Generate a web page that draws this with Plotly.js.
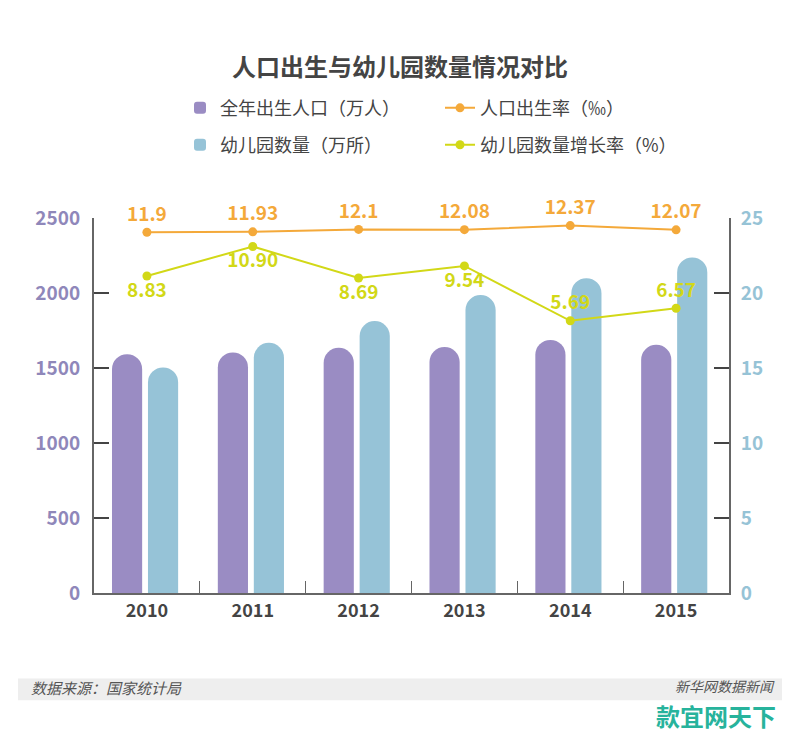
<!DOCTYPE html>
<html><head><meta charset="utf-8">
<script src="https://cdn.plot.ly/plotly-3.0.1.min.js"></script>
<style>html,body{margin:0;padding:0;background:#fff;}#chart{width:800px;height:732px;}</style>
</head><body><div id="chart"></div>
<script>
const years = ['2010','2011','2012','2013','2014','2015'];
const births = [1592, 1604, 1635, 1640, 1687, 1655];          // 全年出生人口（万人）
const kindergartens = [15.04, 16.68, 18.13, 19.86, 20.99, 22.37]; // 幼儿园数量（万所）
const birthRate = [11.9, 11.93, 12.1, 12.08, 12.37, 12.07];   // 人口出生率（‰）
const growthRate = [8.83, 10.90, 8.69, 9.54, 5.69, 6.57];     // 幼儿园数量增长率（%）
const birthRateText = ['11.9', '11.93', '12.1', '12.08', '12.37', '12.07'];
const growthRateText = ['8.83', '10.90', '8.69', '9.54', '5.69', '6.57'];
const leftTicks = [0, 500, 1000, 1500, 2000, 2500];
const rightTicks = [0, 5, 10, 15, 20, 25];

const FONT = '"Noto Sans CJK SC", "Noto Sans", sans-serif';
const PURPLE = '#9a8cc3', TEAL = '#96c3d7', ORANGE = '#f4a93a', LIME = '#d2d817';

const traces = [
  {type:'bar', name:'全年出生人口（万人）', x:years, y:births, yaxis:'y',
   width:0.285, offset:-0.33, marker:{color:PURPLE, cornerradius:15},
   legend:'legend', hoverinfo:'skip'},
  {type:'scatter', mode:'lines+markers+text', name:'人口出生率（‰）', x:years, y:birthRate, yaxis:'y3',
   line:{color:ORANGE, width:2}, marker:{color:ORANGE, size:9},
   text:birthRateText, textposition:'top center', cliponaxis:false,
   textfont:{color:ORANGE, size:19, family:FONT, weight:'bold'}, legend:'legend'},
  {type:'bar', name:'幼儿园数量（万所）', x:years, y:kindergartens, yaxis:'y2',
   width:0.285, offset:0.01, marker:{color:TEAL, cornerradius:15},
   legend:'legend2', hoverinfo:'skip'},
  {type:'scatter', mode:'lines+markers+text', name:'幼儿园数量增长率（%）', x:years, y:growthRate, yaxis:'y3',
   line:{color:LIME, width:2}, marker:{color:LIME, size:9},
   text:growthRateText,
   textposition:['bottom center','bottom center','bottom center','bottom center','top center','top center'],
   cliponaxis:false,
   textfont:{color:LIME, size:19, family:FONT, weight:'bold'}, legend:'legend2'}
];

const legendCommon = {orientation:'h', x:(180-94)/635, xanchor:'left', yanchor:'middle',
  entrywidth:215, entrywidthmode:'pixels', font:{size:18, family:FONT, color:'#444'},
  bgcolor:'rgba(0,0,0,0)', traceorder:'normal'};

const layout = {
  width:800, height:732,
  margin:{l:94, r:71, t:218, b:138.5, pad:0},
  paper_bgcolor:'#fff', plot_bgcolor:'#fff',
  font:{family:FONT, color:'#444'},
  showlegend:true,
  barmode:'overlay',
  title:{text:'人口出生与幼儿园数量情况对比', x:0.5, xref:'container', xanchor:'center',
         y:1-68/732, yref:'container', yanchor:'middle',
         font:{size:24, family:FONT, weight:'bold', color:'#444'}},
  xaxis:{type:'category', showgrid:false, zeroline:false, showline:true, linecolor:'#666', linewidth:2,
         ticks:'inside', tickson:'boundaries', ticklen:12, tickwidth:1, tickcolor:'#666',
         tickfont:{size:18, family:FONT, weight:'bold', color:'#444'}, fixedrange:true},
  yaxis:{range:[0,2500], tickvals:leftTicks, showgrid:false, zeroline:false, showline:true,
         linecolor:'#666', linewidth:2, ticks:'inside', ticklen:15, tickwidth:2, tickcolor:'#444',
         tickfont:{size:19, family:FONT, weight:'bold', color:'#8f87ba'}, ticklabelstandoff:8},
  yaxis2:{range:[0,25], tickvals:rightTicks, overlaying:'y', side:'right', showgrid:false, zeroline:false,
          showline:true, linecolor:'#666', linewidth:2, ticks:'inside', ticklen:15, tickwidth:2, tickcolor:'#444',
          tickfont:{size:19, family:FONT, weight:'bold', color:'#96c3d6'}, ticklabelstandoff:6},
  yaxis3:{range:[-13.4, 12.9], overlaying:'y', visible:false, showgrid:false, zeroline:false},
  legend:Object.assign({}, legendCommon, {y:(593.5-108)/375.5}),
  legend2:Object.assign({}, legendCommon, {y:(593.5-145)/375.5}),
  shapes:[{type:'rect', xref:'paper', yref:'paper', x0:(18-94)/635, x1:(782-94)/635,
           y0:(593.5-679)/375.5, y1:(593.5-701)/375.5, fillcolor:'#eeeeee', line:{width:0}, layer:'below'}],
  annotations:[
    {text:'数据来源：国家统计局', xref:'paper', yref:'paper', x:(30-94)/635, xanchor:'left',
     y:(593.5-688)/375.5, yanchor:'middle', showarrow:false, borderpad:0,
     font:{size:15, family:FONT, color:'#555', style:'italic'}},
    {text:'新华网数据新闻', xref:'paper', yref:'paper', x:(776-94)/635, xanchor:'right',
     y:(593.5-687)/375.5, yanchor:'middle', showarrow:false, borderpad:0,
     font:{size:14, family:FONT, color:'#555', style:'italic'}},
    {text:'款宜网天下', xref:'paper', yref:'paper', x:(777-94)/635, xanchor:'right',
     y:(593.5-716)/375.5, yanchor:'middle', showarrow:false, borderpad:0,
     font:{size:24, family:FONT, color:'#27b39c', weight:'bold'}}
  ]
};

Plotly.newPlot('chart', traces, layout, {displayModeBar:false, staticPlot:true});
</script>
</body></html>
